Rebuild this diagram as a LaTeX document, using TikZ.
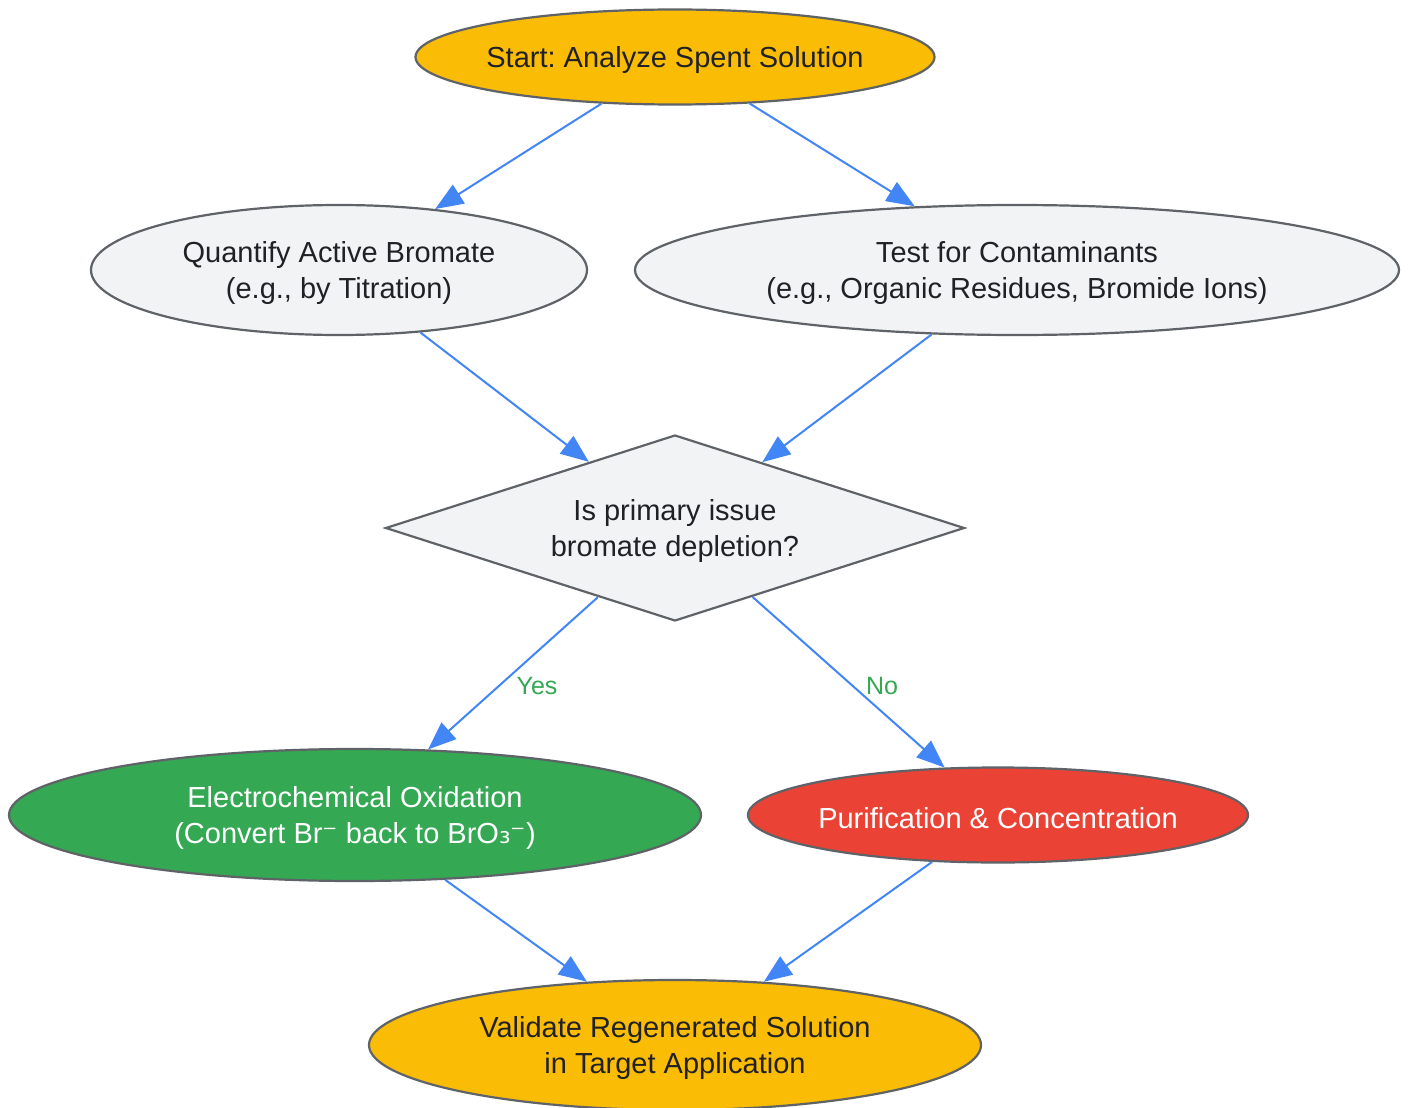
\documentclass[tikz,border=0pt]{standalone}
\usepackage{fontspec}
\setmainfont{Liberation Sans}
\newfontfamily\djv{DejaVu Sans}
\usetikzlibrary{shapes.geometric,arrows.meta}
\definecolor{gyellow}{HTML}{FBBC05}
\definecolor{ggreen}{HTML}{34A853}
\definecolor{gred}{HTML}{EA4335}
\definecolor{glight}{HTML}{F1F3F4}
\definecolor{gborder}{HTML}{5F6368}
\definecolor{gtext}{HTML}{202124}
\definecolor{gblue}{HTML}{4285F4}
\frenchspacing
\begin{document}
\begin{tikzpicture}[x=1pt,y=-1pt,
  base/.style={draw=gborder, line width=2.2pt, inner sep=0pt},
  oval/.style={base, ellipse},
  txt/.style={font=\fontsize{29}{36}\selectfont, align=center, text=gtext, inner sep=0pt, yshift=-3pt},
  wtxt/.style={txt, text=white},
  flow/.style={draw=gblue, line width=2pt, -{Triangle[length=28pt,width=22pt]}},
  elabel/.style={font=\fontsize{25}{30}\selectfont, text=ggreen, inner sep=0pt}]
\useasboundingbox[fill=white] (0,0) rectangle (1409,1108);

\node[oval, fill=gyellow, minimum width=519, minimum height=95,
  label={[txt]center:{Start: Analyze Spent Solution}}] (start) at (675,57) {};
\node[oval, fill=glight, minimum width=496, minimum height=130,
  label={[txt]center:{Quantify Active Bromate\\(e.g., by Titration)}}] (quant) at (339,270) {};
\node[oval, fill=glight, minimum width=764, minimum height=130,
  label={[txt]center:{Test for Contaminants\\(e.g., Organic Residues, Bromide Ions)}}] (test) at (1017,270) {};
\node[base, diamond, fill=glight, minimum width=579, minimum height=186, aspect=3.11,
  label={[txt]center:{Is primary issue\\bromate depletion?}}] (dec) at (675,528) {};
\node[oval, fill=ggreen, minimum width=692, minimum height=132,
  label={[wtxt]center:{Electrochemical Oxidation\\(Convert Br{\djv ⁻} back to BrO{\djv ₃⁻})}}] (elec) at (355,815) {};
\node[oval, fill=gred, minimum width=500, minimum height=95,
  label={[wtxt]center:{Purification \& Concentration}}] (pur) at (998,815) {};
\node[oval, fill=gyellow, minimum width=612, minimum height=130,
  label={[txt]center:{Validate Regenerated Solution\\in Target Application}}] (val) at (675,1045) {};

\draw[flow] (start) -- (quant);
\draw[flow] (start) -- (test);
\draw[flow] (quant) -- (dec);
\draw[flow] (test) -- (dec);
\draw[flow] (dec) -- (elec);
\draw[flow] (dec) -- (pur);
\draw[flow] (elec) -- (val);
\draw[flow] (pur) -- (val);

\node[elabel] (yes) at (537,686) {Yes};
\node[elabel] (no) at (882,686) {No};
\end{tikzpicture}
\end{document}
